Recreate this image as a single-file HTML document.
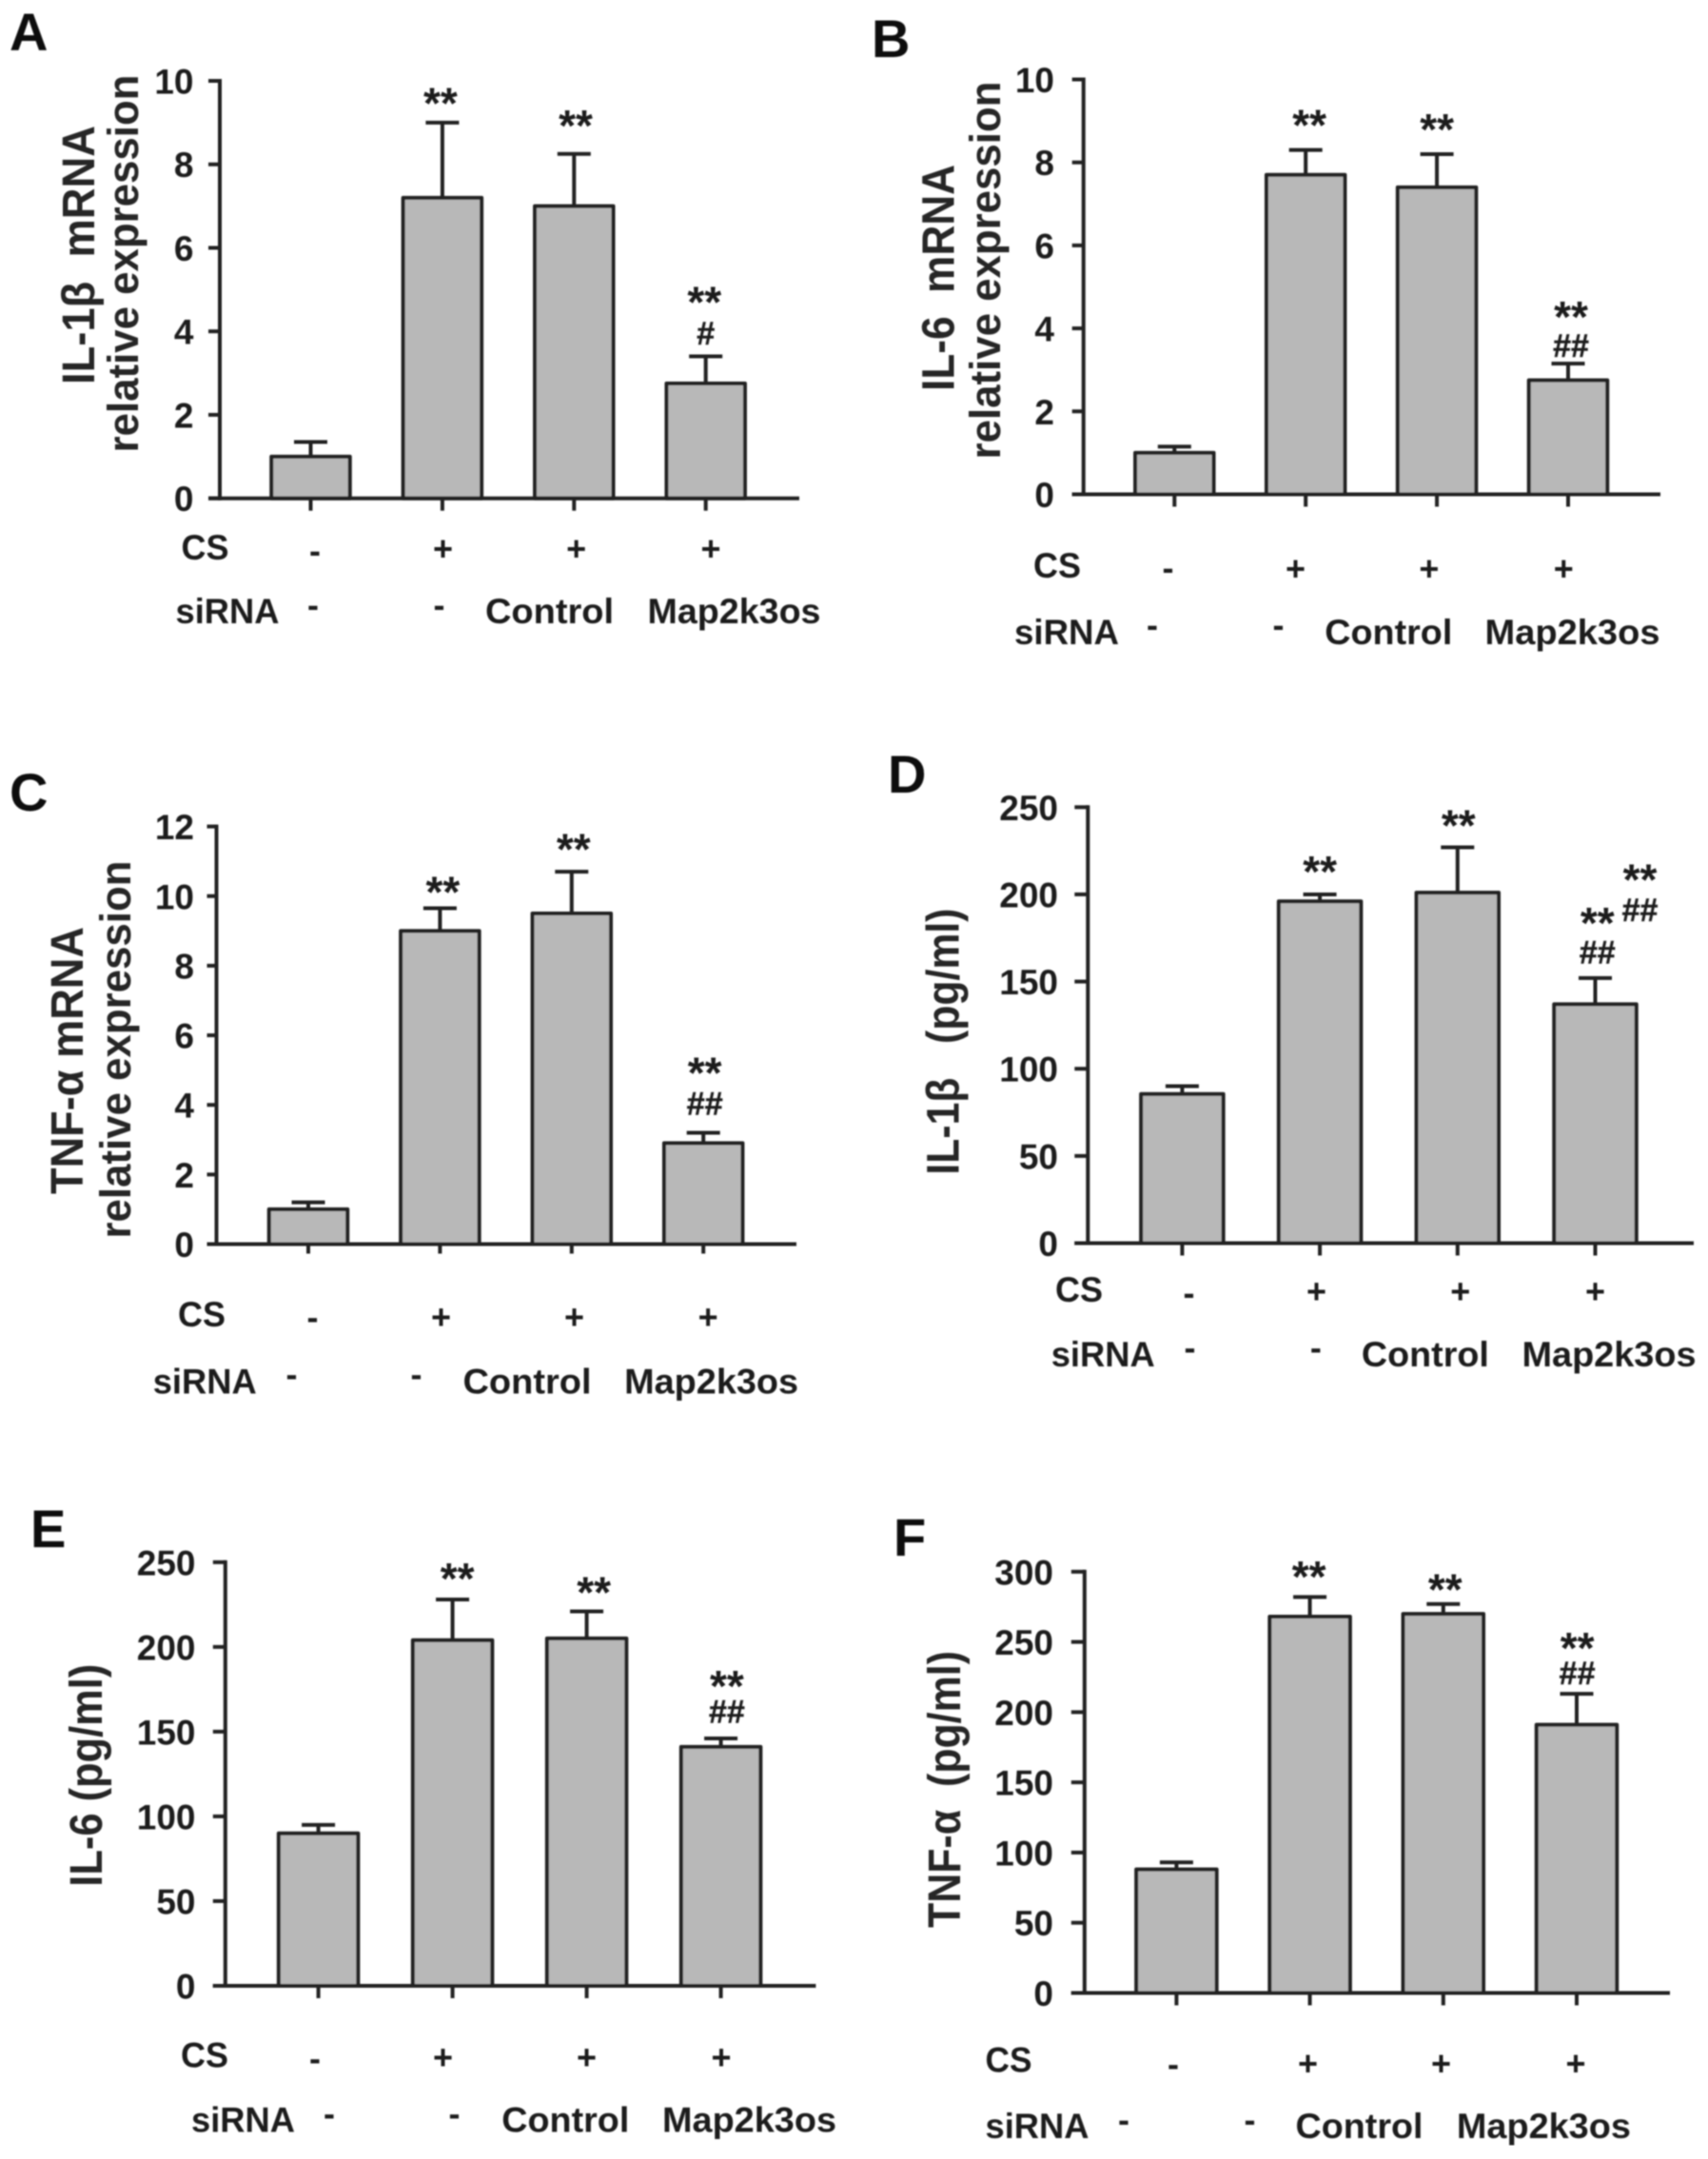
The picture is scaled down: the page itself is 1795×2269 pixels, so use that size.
<!DOCTYPE html>
<html lang="en">
<head>
<meta charset="utf-8">
<title>Cytokine expression bar charts</title>
<style>
html,body{margin:0;padding:0;background:#fff;}
svg{display:block;}
text{font-family:"Liberation Sans",Arial,sans-serif;font-weight:bold;fill:#1e1e1e;white-space:pre;}
.letter{font-size:56px;fill:#0c0c0c;}
.title{font-size:48px;text-anchor:middle;fill:#262626;}
.sub{font-size:45px;text-anchor:middle;fill:#262626;}
.row{font-size:37px;}
.sign{font-size:36px;text-anchor:middle;}
.tick{font-size:37px;text-anchor:end;}
.star{font-size:46px;text-anchor:middle;}
.hash{font-size:34px;text-anchor:middle;stroke:#1e1e1e;stroke-width:0.5px;}
</style>
</head>
<body>
<svg id="figure" xmlns="http://www.w3.org/2000/svg" width="1795" height="2269" viewBox="0 0 1795 2269">
<defs><filter id="soft" x="0" y="0" width="100%" height="100%"><feGaussianBlur stdDeviation="0.7"/></filter></defs>
<rect width="1795" height="2269" fill="#fff"/>
<g id="art" filter="url(#soft)">

<g id="panel-a">
<text class="letter" x="10" y="53">A</text>
<text class="title" transform="translate(99,268) rotate(-90)" textLength="272" lengthAdjust="spacingAndGlyphs">IL-1β  mRNA</text>
<text class="sub" transform="translate(145,277) rotate(-90)" textLength="397" lengthAdjust="spacingAndGlyphs">relative expression</text>
<g transform="translate(-3,-3)">
<text class="row" x="193.5" y="591" textLength="50" lengthAdjust="spacingAndGlyphs">CS</text>
<text class="sign" x="334" y="594">-</text>
<text class="sign" x="468.5" y="592">+</text>
<text class="sign" x="608.7" y="592">+</text>
<text class="sign" x="750" y="592">+</text>
<text class="row" x="187.5" y="658" textLength="109" lengthAdjust="spacingAndGlyphs">siRNA</text>
<text class="sign" x="332" y="651">-</text>
<text class="sign" x="464.5" y="651">-</text>
<text class="row" x="513" y="658" textLength="135" lengthAdjust="spacingAndGlyphs">Control</text>
<text class="row" x="683.5" y="658" textLength="182" lengthAdjust="spacingAndGlyphs">Map2k3os</text>
</g>
</g>

<g id="panel-b">
<text class="letter" x="916" y="60">B</text>
<text class="title" transform="translate(1002.7,292) rotate(-90)" textLength="238" lengthAdjust="spacingAndGlyphs">IL-6  mRNA</text>
<text class="sub" transform="translate(1050.8,284) rotate(-90)" textLength="397" lengthAdjust="spacingAndGlyphs">relative expression</text>
<g transform="translate(-3.5,-3)">
<text class="row" x="1089.5" y="610" textLength="50" lengthAdjust="spacingAndGlyphs">CS</text>
<text class="sign" x="1231" y="612">-</text>
<text class="sign" x="1365" y="613">+</text>
<text class="sign" x="1505.4" y="613">+</text>
<text class="sign" x="1646.8" y="613">+</text>
<text class="row" x="1069.5" y="680" textLength="110" lengthAdjust="spacingAndGlyphs">siRNA</text>
<text class="sign" x="1214.5" y="672">-</text>
<text class="sign" x="1347" y="672">-</text>
<text class="row" x="1395.8" y="680" textLength="134" lengthAdjust="spacingAndGlyphs">Control</text>
<text class="row" x="1564" y="680" textLength="184" lengthAdjust="spacingAndGlyphs">Map2k3os</text>
</g>
</g>

<g id="panel-c">
<text class="letter" x="10" y="852">C</text>
<text class="title" transform="translate(87,1114.5) rotate(-90)" textLength="281" lengthAdjust="spacingAndGlyphs">TNF-α mRNA</text>
<text class="sub" transform="translate(137,1103) rotate(-90)" textLength="397" lengthAdjust="spacingAndGlyphs">relative expression</text>
<g transform="translate(-3.5,-3.5)">
<text class="row" x="190.5" y="1397.5" textLength="50" lengthAdjust="spacingAndGlyphs">CS</text>
<text class="sign" x="332" y="1400">-</text>
<text class="sign" x="467" y="1400">+</text>
<text class="sign" x="607" y="1400">+</text>
<text class="sign" x="747.7" y="1400">+</text>
<text class="row" x="164.2" y="1468" textLength="109" lengthAdjust="spacingAndGlyphs">siRNA</text>
<text class="sign" x="310" y="1460">-</text>
<text class="sign" x="441" y="1460">-</text>
<text class="row" x="490" y="1468" textLength="135" lengthAdjust="spacingAndGlyphs">Control</text>
<text class="row" x="659.6" y="1468" textLength="183" lengthAdjust="spacingAndGlyphs">Map2k3os</text>
</g>
</g>

<g id="panel-d">
<text class="letter" x="933" y="833">D</text>
<text class="title" transform="translate(1007.5,1094.6) rotate(-90)" textLength="280" lengthAdjust="spacingAndGlyphs">IL-1β   (pg/ml)</text>
<g transform="translate(-3.5,-3)">
<text class="row" x="1112.5" y="1370.8" textLength="50" lengthAdjust="spacingAndGlyphs">CS</text>
<text class="sign" x="1253" y="1374">-</text>
<text class="sign" x="1387" y="1372.6">+</text>
<text class="sign" x="1538.3" y="1372.6">+</text>
<text class="sign" x="1680" y="1372.6">+</text>
<text class="row" x="1108.2" y="1439" textLength="109" lengthAdjust="spacingAndGlyphs">siRNA</text>
<text class="sign" x="1254" y="1431.5">-</text>
<text class="sign" x="1386.4" y="1431.5">-</text>
<text class="row" x="1434.4" y="1439" textLength="134" lengthAdjust="spacingAndGlyphs">Control</text>
<text class="row" x="1603" y="1439" textLength="183" lengthAdjust="spacingAndGlyphs">Map2k3os</text>
</g>
</g>

<g id="panel-e">
<text class="letter" x="32" y="1626">E</text>
<text class="title" transform="translate(107,1865.7) rotate(-90)" textLength="234" lengthAdjust="spacingAndGlyphs">IL-6 (pg/ml)</text>
<g transform="translate(-3.5,-3.5)">
<text class="row" x="193.5" y="2176" textLength="50" lengthAdjust="spacingAndGlyphs">CS</text>
<text class="sign" x="334.5" y="2179">-</text>
<text class="sign" x="469" y="2178">+</text>
<text class="sign" x="620" y="2178">+</text>
<text class="sign" x="761.5" y="2178">+</text>
<text class="row" x="204.5" y="2244" textLength="109" lengthAdjust="spacingAndGlyphs">siRNA</text>
<text class="sign" x="349.5" y="2236.8">-</text>
<text class="sign" x="481" y="2236.8">-</text>
<text class="row" x="530.8" y="2244" textLength="134" lengthAdjust="spacingAndGlyphs">Control</text>
<text class="row" x="699.5" y="2244" textLength="183" lengthAdjust="spacingAndGlyphs">Map2k3os</text>
</g>
</g>

<g id="panel-f">
<text class="letter" x="939" y="1635">F</text>
<text class="title" transform="translate(1009,1880.5) rotate(-90)" textLength="291" lengthAdjust="spacingAndGlyphs">TNF-α  (pg/ml)</text>
<g transform="translate(-3.5,-3.5)">
<text class="row" x="1039" y="2181" textLength="49" lengthAdjust="spacingAndGlyphs">CS</text>
<text class="sign" x="1236.5" y="2185">-</text>
<text class="sign" x="1378" y="2184.7">+</text>
<text class="sign" x="1518" y="2184.7">+</text>
<text class="sign" x="1659.5" y="2184.7">+</text>
<text class="row" x="1039" y="2250.5" textLength="109" lengthAdjust="spacingAndGlyphs">siRNA</text>
<text class="sign" x="1184.5" y="2243.6">-</text>
<text class="sign" x="1317" y="2243.6">-</text>
<text class="row" x="1365" y="2250.5" textLength="134" lengthAdjust="spacingAndGlyphs">Control</text>
<text class="row" x="1534.4" y="2250.5" textLength="183" lengthAdjust="spacingAndGlyphs">Map2k3os</text>
</g>
</g>
</g>
</svg>
<script>
const groups = ['none', 'CS', 'CS + control siRNA', 'CS + Map2k3os siRNA'];

const ticksA = [0, 2, 4, 6, 8, 10];
const valuesA = [1, 7.2, 7, 2.75];
const errorTopsA = [1.35, 9, 8.25, 3.4];

const ticksB = [0, 2, 4, 6, 8, 10];
const valuesB = [1, 7.7, 7.4, 2.75];
const errorTopsB = [1.15, 8.3, 8.2, 3.15];

const ticksC = [0, 2, 4, 6, 8, 10, 12];
const valuesC = [1, 9, 9.5, 2.9];
const errorTopsC = [1.2, 9.65, 10.7, 3.2];

const ticksD = [0, 50, 100, 150, 200, 250];
const valuesD = [85.5, 196, 201, 137];
const errorTopsD = [90, 200, 227, 152];

const ticksE = [0, 50, 100, 150, 200, 250];
const valuesE = [90, 204, 205, 141];
const errorTopsE = [95, 228, 221, 146];

const ticksF = [0, 50, 100, 150, 200, 250, 300];
const valuesF = [88, 268, 270, 191];
const errorTopsF = [93, 282, 277, 213];

const NS = 'http://www.w3.org/2000/svg';
const INK = '#222222';
const FILL = '#b8b8b8';
const STROKE = 4;

function mk(tag, parent, props) {
  const el = document.createElementNS(NS, tag);
  for (const k in props) el.setAttribute(k, props[k]);
  parent.appendChild(el);
  return el;
}

function drawPanel(id, ticks, values, errorTops, g) {
  const parent = document.getElementById('panel-' + id);
  const maxTick = ticks[ticks.length - 1];
  const yOf = v => g.y0 - (v / maxTick) * (g.y0 - g.yTop);
  const plot = mk('g', parent, {});
  
  

  values.forEach((v, i) => {
    const cx = g.first + i * g.step;
    const top = yOf(errorTops[i]);
    const stem = mk('line', plot, {x1: cx, x2: cx, y1: yOf(v), y2: top, stroke: INK, 'stroke-width': STROKE});
    
    
    const cap = mk('line', plot, {x1: cx - g.capW / 2, x2: cx + g.capW / 2, y1: top, y2: top, stroke: INK, 'stroke-width': STROKE});
    
    
    const bar = mk('rect', plot, {x: cx - g.barW / 2, y: yOf(v), width: g.barW, height: g.y0 - yOf(v), fill: FILL, stroke: INK, 'stroke-width': STROKE, 'stroke-linejoin': 'round'});
    
    
    const xt = mk('line', plot, {x1: cx, x2: cx, y1: g.y0, y2: g.y0 + g.xTick, stroke: INK, 'stroke-width': STROKE});
    
    
  });

  ticks.forEach(t => {
    const y = yOf(t);
    const tk = mk('line', plot, {x1: g.axisX - g.yTick, x2: g.axisX, y1: y, y2: y, stroke: INK, 'stroke-width': STROKE});
    
    
    const lb = mk('text', plot, {class: 'tick', x: g.labelEnd, y: y + 13.5});
    lb.textContent = String(t);
    
    
  });

  const yAxis = mk('line', plot, {x1: g.axisX, x2: g.axisX, y1: g.yTop - STROKE / 2, y2: g.y0 + STROKE / 2, stroke: INK, 'stroke-width': STROKE});
  
  
  const xAxis = mk('line', plot, {x1: g.axisX - g.yTick, x2: g.right, y1: g.y0, y2: g.y0, stroke: INK, 'stroke-width': STROKE});
  
  

  // significance marks ride on the error-bar tops: [bar index, text, dx, height above cap]
  g.notes.forEach(n => {
    const isStar = n[1].charAt(0) === '*';
    const cy = yOf(errorTops[n[0]]) - n[3];
    const tx = mk('text', plot, {class: isStar ? 'star' : 'hash', x: g.first + n[0] * g.step + n[2], y: cy + (isStar ? 22 : 10)});
    tx.textContent = n[1];
    
    
  });
}

drawPanel('a', ticksA, valuesA, errorTopsA, {axisX: 231, y0: 523.7, yTop: 85, right: 840, first: 326.5, step: 138.4, barW: 82.5, capW: 35, yTick: 12, xTick: 13, labelEnd: 203.5,
  notes: [[1, '**', -2, 26.5], [2, '**', 1.7, 36], [3, '**', -1.4, 63], [3, '#', 0, 22.5]]});
drawPanel('b', ticksB, valuesB, errorTopsB, {axisX: 1138.7, y0: 519.5, yTop: 83.5, right: 1745, first: 1234.3, step: 137.9, barW: 82.5, capW: 35, yTick: 12, xTick: 13, labelEnd: 1108,
  notes: [[1, '**', 4, 32], [2, '**', 0, 32], [3, '**', 3, 55], [3, '##', 3, 17]]});
drawPanel('c', ticksC, valuesC, errorTopsC, {axisX: 227.5, y0: 1307.5, yTop: 868.6, right: 837, first: 324, step: 138.4, barW: 82.5, capW: 35, yTick: 10, xTick: 10, labelEnd: 204,
  notes: [[1, '**', 3, 23], [2, '**', 2, 29.5], [3, '**', 1.5, 69], [3, '##', 1.5, 29]]});
drawPanel('d', ticksD, valuesD, errorTopsD, {axisX: 1143.3, y0: 1306.5, yTop: 848.3, right: 1780, first: 1242.4, step: 144.7, barW: 86.5, capW: 35, yTick: 14, xTick: 13, labelEnd: 1112,
  notes: [[1, '**', 0, 30], [2, '**', 1, 29], [3, '**', 2.3, 64], [3, '##', 2.3, 25.5], [3, '**', 47, 109.5], [3, '##', 47, 70]]});
drawPanel('e', ticksE, valuesE, errorTopsE, {axisX: 236.8, y0: 2087, yTop: 1641.8, right: 857.4, first: 334.6, step: 141, barW: 83.5, capW: 35, yTick: 13, xTick: 13, labelEnd: 205.5,
  notes: [[1, '**', 5, 28], [2, '**', 7.5, 26], [3, '**', 6.3, 61], [3, '##', 6.3, 26.7]]});
drawPanel('f', ticksF, valuesF, errorTopsF, {axisX: 1139.8, y0: 2094.5, yTop: 1651.8, right: 1755, first: 1236.4, step: 140.2, barW: 84.5, capW: 35, yTick: 14, xTick: 13, labelEnd: 1107,
  notes: [[1, '**', -1, 27.5], [2, '**', 2, 21], [3, '**', 0.6, 54], [3, '##', 0.6, 20]]});
</script>
</body>
</html>
